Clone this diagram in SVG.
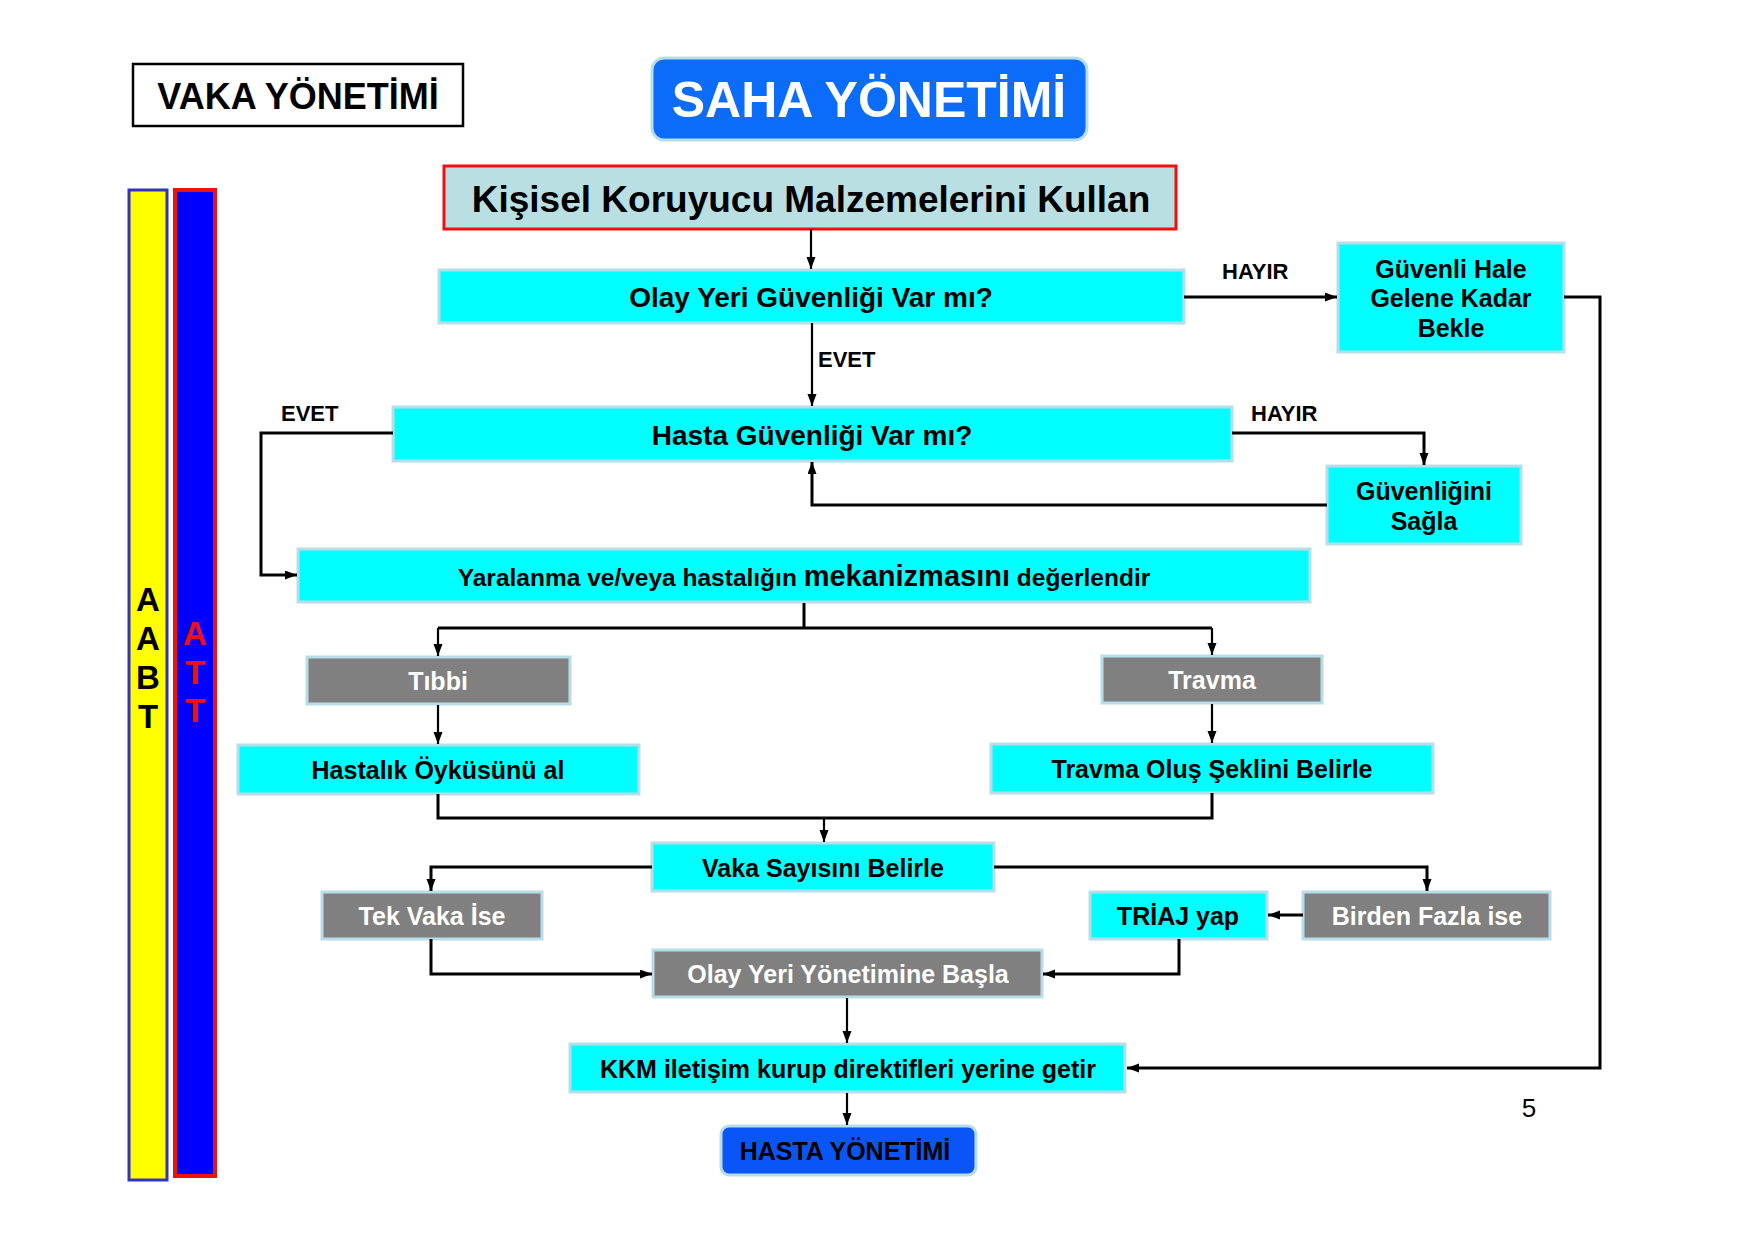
<svg xmlns="http://www.w3.org/2000/svg" width="1755" height="1240" viewBox="0 0 1755 1240">
<style>
text{font-family:"Liberation Sans",Arial,sans-serif;font-weight:bold;text-anchor:middle}
.cy{fill:#00FFFF;stroke:#B7DEE8;stroke-width:3}
.gr{fill:#808080;stroke:#B7DEE8;stroke-width:3}
.t{font-size:25px;fill:#000}
.w{font-size:25px;fill:#fff}
.c{fill:none;stroke:#000;stroke-width:3}
.c2{fill:none;stroke:#000;stroke-width:2.2}
.lb{font-size:22px;fill:#000;text-anchor:start}
</style>
<defs>
<marker id="ah" markerUnits="userSpaceOnUse" markerWidth="14" markerHeight="10" refX="12" refY="4.5" orient="auto">
<path d="M0,0 L12,4.5 L0,9 z" fill="#000"/>
</marker>
</defs>
<rect width="1755" height="1240" fill="#fff"/>

<g id="side-bars">
<rect x="129" y="190" width="38" height="990" fill="#FFFF00" stroke="#3333BB" stroke-width="3"/>
<rect x="175" y="190" width="40" height="986" fill="#0000FF" stroke="#EE1111" stroke-width="4"/>
<g style="font-size:33px">
<text x="148" y="611">A</text>
<text x="148" y="650">A</text>
<text x="148" y="689">B</text>
<text x="148" y="728">T</text>
<text x="195" y="645" fill="#EE1111">A</text>
<text x="195" y="684" fill="#EE1111">T</text>
<text x="195" y="722" fill="#EE1111">T</text>
</g>
</g>

<g id="vaka-yonetimi">
<rect x="133" y="64" width="330" height="62" fill="#fff" stroke="#000" stroke-width="2.5"/>
<text x="298" y="109" style="font-size:36px">VAKA YÖNETİMİ</text>
</g>

<g id="saha-yonetimi">
<rect x="652" y="58" width="435" height="82" rx="12" fill="#0A6CF8" stroke="#B7DEE8" stroke-width="3"/>
<text x="869" y="117" style="font-size:50px" fill="#fff">SAHA YÖNETİMİ</text>
</g>

<g id="kkm-kullan">
<rect x="444" y="166" width="732" height="63" fill="#BADFE3" stroke="#EE1111" stroke-width="3"/>
<text x="811" y="212" style="font-size:37px">Kişisel Koruyucu Malzemelerini Kullan</text>
</g>

<g id="olay-yeri-guvenligi">
<rect class="cy" x="439" y="270" width="745" height="53"/>
<text x="811" y="307" style="font-size:28px">Olay Yeri Güvenliği Var mı?</text>
</g>

<g id="guvenli-hale">
<rect class="cy" x="1338" y="243" width="226" height="109"/>
<text class="t" x="1451" y="278">Güvenli Hale</text>
<text class="t" x="1451" y="307">Gelene Kadar</text>
<text class="t" x="1451" y="337">Bekle</text>
</g>

<g id="hasta-guvenligi">
<rect class="cy" x="393" y="407" width="839" height="54"/>
<text x="812" y="445" style="font-size:28px">Hasta Güvenliği Var mı?</text>
</g>

<g id="guvenligini-sagla">
<rect class="cy" x="1327" y="466" width="194" height="78"/>
<text class="t" x="1424" y="500">Güvenliğini</text>
<text class="t" x="1424" y="530">Sağla</text>
</g>

<g id="yaralanma">
<rect class="cy" x="298" y="549" width="1012" height="53"/>
<text x="804" y="586" style="font-size:24.5px">Yaralanma ve/veya hastalığın <tspan style="font-size:29px">mekanizmasını</tspan> değerlendir</text>
</g>

<g id="tibbi">
<rect class="gr" x="307" y="657" width="263" height="47"/>
<text class="w" x="438" y="690">Tıbbi</text>
</g>

<g id="travma">
<rect class="gr" x="1102" y="656" width="220" height="47"/>
<text class="w" x="1212" y="689">Travma</text>
</g>

<g id="hastalik-oyku">
<rect class="cy" x="238" y="745" width="401" height="49"/>
<text class="t" x="438" y="779">Hastalık Öyküsünü al</text>
</g>

<g id="travma-olus">
<rect class="cy" x="991" y="744" width="442" height="49"/>
<text class="t" x="1212" y="778">Travma Oluş Şeklini Belirle</text>
</g>

<g id="vaka-sayisi">
<rect class="cy" x="652" y="843" width="342" height="48"/>
<text class="t" x="823" y="877">Vaka Sayısını Belirle</text>
</g>

<g id="tek-vaka">
<rect class="gr" x="322" y="892" width="220" height="47"/>
<text class="w" x="432" y="925">Tek Vaka İse</text>
</g>

<g id="triaj">
<rect class="cy" x="1090" y="892" width="177" height="47"/>
<text class="t" x="1178" y="925">TRİAJ yap</text>
</g>

<g id="birden-fazla">
<rect class="gr" x="1303" y="892" width="247" height="47"/>
<text class="w" x="1427" y="925">Birden Fazla ise</text>
</g>

<g id="olay-yeri-yonetimi">
<rect class="gr" x="653" y="950" width="389" height="47"/>
<text class="w" x="848" y="983">Olay Yeri Yönetimine Başla</text>
</g>

<g id="kkm-iletisim">
<rect class="cy" x="570" y="1044" width="555" height="48"/>
<text class="t" x="848" y="1078">KKM iletişim kurup direktifleri yerine getir</text>
</g>

<g id="hasta-yonetimi">
<rect x="721" y="1126" width="255" height="49" rx="8" fill="#0A55F5" stroke="#B7DEE8" stroke-width="3"/>
<text class="t" x="845" y="1160">HASTA YÖNETİMİ</text>
</g>

<g id="connectors">
<path class="c2" d="M811,229 V269" marker-end="url(#ah)"/>
<path class="c" d="M1184,297 H1337" marker-end="url(#ah)"/>
<path class="c" d="M1564,297 H1600 V1068 H1127" marker-end="url(#ah)"/>
<path class="c2" d="M812,323 V406" marker-end="url(#ah)"/>
<path class="c" d="M1232,433 H1424 V465" marker-end="url(#ah)"/>
<path class="c" d="M1327,505 H812 V462" marker-end="url(#ah)"/>
<path class="c" d="M393,433 H261 V575 H297" marker-end="url(#ah)"/>
<path class="c" d="M804,603 V628 M438,628 H1212"/>
<path class="c2" d="M438,628 V656" marker-end="url(#ah)"/>
<path class="c2" d="M1212,628 V655" marker-end="url(#ah)"/>
<path class="c2" d="M438,705 V744" marker-end="url(#ah)"/>
<path class="c2" d="M1212,704 V743" marker-end="url(#ah)"/>
<path class="c" d="M438,794 V818 H1212 V793"/>
<path class="c2" d="M824,818 V842" marker-end="url(#ah)"/>
<path class="c" d="M652,867 H431 V891" marker-end="url(#ah)"/>
<path class="c" d="M994,867 H1427 V891" marker-end="url(#ah)"/>
<path class="c" d="M1303,915 H1268" marker-end="url(#ah)"/>
<path class="c" d="M431,939 V974 H652" marker-end="url(#ah)"/>
<path class="c" d="M1179,939 V974 H1043" marker-end="url(#ah)"/>
<path class="c2" d="M847,998 V1043" marker-end="url(#ah)"/>
<path class="c2" d="M847,1093 V1125" marker-end="url(#ah)"/>
<text class="lb" x="1222" y="279">HAYIR</text>
<text class="lb" x="818" y="367">EVET</text>
<text class="lb" x="1251" y="421">HAYIR</text>
<text class="lb" x="281" y="421">EVET</text>
</g>

<text x="1529" y="1117" style="font-size:26px;font-weight:normal">5</text>
</svg>
